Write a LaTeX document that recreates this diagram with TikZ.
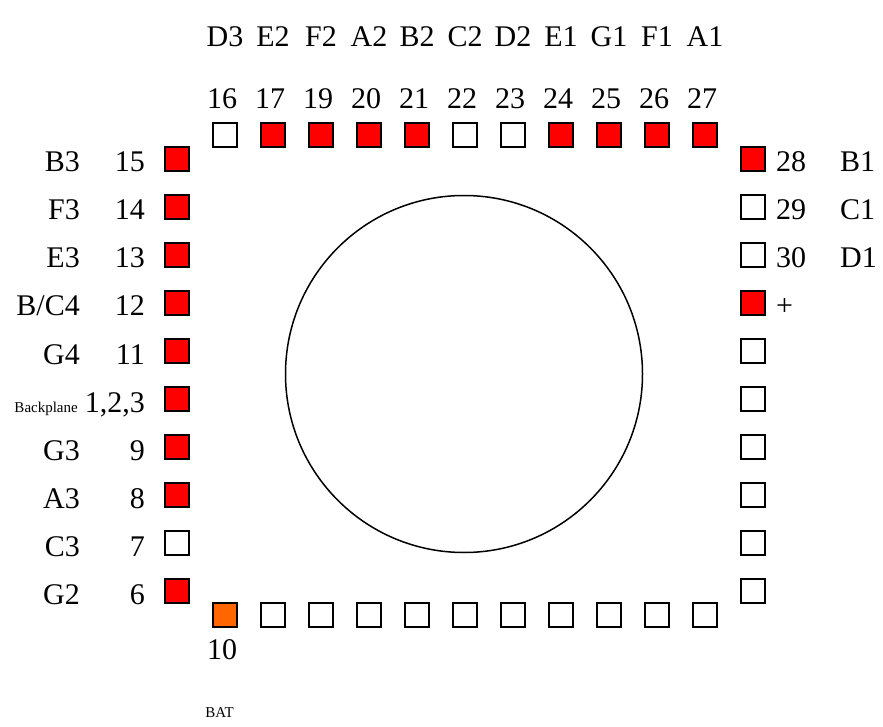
\documentclass[tikz,border=0pt]{standalone}
\usepackage{fontspec}
\setmainfont{Liberation Serif}
\usetikzlibrary{positioning}
\definecolor{segred}{RGB}{255,0,0}
\definecolor{batorange}{RGB}{255,102,0}

\begin{document}
\begin{tikzpicture}[x=1pt, y=-1pt,
  pad/.style={draw=black, line width=1.4pt, minimum size=24pt, inner sep=0pt, fill=white},
  lbl/.style={font=\fontsize{30}{36}\selectfont, inner sep=0pt},
  tiny/.style={font=\fontsize{15}{18}\selectfont, inner sep=0pt}]
  \useasboundingbox (0,0) rectangle (883,727);
  % glass
  \node[draw, circle, line width=1.5pt, minimum size=357pt] (lcd) at (464,374) {};
  % top row
  \foreach \n/\x/\f/\s in {16/225/white/D3, 17/273/segred/E2, 19/321/segred/F2,
      20/369/segred/A2, 21/417/segred/B2, 22/465/white/C2, 23/513/white/D2,
      24/561/segred/E1, 25/609/segred/G1, 26/657/segred/F1, 27/705/segred/A1}
  {
    \node[pad, fill=\f] (t\n) at (\x,135) {};
    \node[lbl, anchor=base] (tn\n) at (\x-3,109) {\n};
    \node[lbl, anchor=base] (ts\n) at (\x,47) {\s};
  }
  % left column
  \foreach \n/\y/\f/\s in {15/159/segred/B3, 14/207/segred/F3, 13/255/segred/E3,
      12/303/segred/{B/C4}, 11/351/segred/G4, 9/447/segred/G3, 8/495/segred/A3,
      7/543/white/C3, 6/591/segred/G2}
  {
    \node[pad, fill=\f] (l\n) at (177,\y) {};
    \node[lbl, anchor=base east] (ln\n) at (145,\y+13) {\n};
    \node[lbl, anchor=base east] (ls\n) at (80,\y+13) {\s};
  }
  \node[pad, fill=segred] (lbp) at (177,399) {};
  \node[lbl, anchor=base east] (lnbp) at (145,412) {1,2,3};
  \node[tiny, anchor=base east] (lsbp) at (78,412) {Backplane};
  % right column
  \foreach \n/\y/\f/\s in {28/159/segred/B1, 29/207/white/C1, 30/255/white/D1}
  {
    \node[pad, fill=\f] (r\n) at (753,\y) {};
    \node[lbl, anchor=base west] (rn\n) at (776,\y+13) {\n};
    \node[lbl, anchor=base west] (rs\n) at (840,\y+13) {\s};
  }
  \node[pad, fill=segred] (rplus) at (753,303) {};
  \node[lbl, anchor=base west] (rnplus) at (776,316) {+};
  \foreach \y [count=\i] in {351,399,447,495,543,591}
    \node[pad] (re\i) at (753,\y) {};
  % bottom row
  \node[pad, fill=batorange] (b10) at (225,615) {};
  \node[lbl, anchor=base] (bn10) at (222,659) {10};
  \node[tiny, anchor=base] (bbat) at (219.5,717) {BAT};
  \foreach \x [count=\i] in {273,321,369,417,465,513,561,609,657,705}
    \node[pad] (be\i) at (\x,615) {};
\end{tikzpicture}
\end{document}
